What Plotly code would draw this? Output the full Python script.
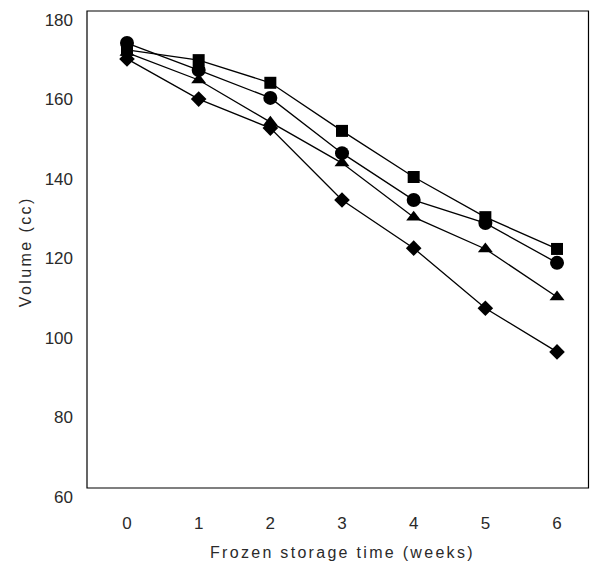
import plotly.graph_objects as go

weeks = [0, 1, 2, 3, 4, 5, 6]
square_vals = [172.5, 169.9, 164.2, 152.1, 140.5, 130.4, 122.4]
circle_vals = [174.2, 167.4, 160.4, 146.5, 134.7, 128.9, 118.9]
triangle_vals = [171.8, 164.9, 154.3, 144.0, 130.4, 122.4, 110.3]
diamond_vals = [170.2, 160.1, 152.8, 134.7, 122.6, 107.5, 96.5]

y_ticks = [60, 80, 100, 120, 140, 160, 180]
x_ticks = [0, 1, 2, 3, 4, 5, 6]

x_title = "Frozen storage time (weeks)"
y_title = "Volume (cc)"

series = [
    (diamond_vals, "diamond", 12),
    (triangle_vals, "triangle-up", 13),
    (circle_vals, "circle", 14),
    (square_vals, "square", 12),
]

fig = go.Figure()
for vals, sym, sz in series:
    fig.add_trace(go.Scatter(
        x=weeks, y=vals, mode="lines+markers",
        line=dict(color="black", width=1.3),
        marker=dict(symbol=sym, size=sz, color="black"),
        showlegend=False,
    ))

tick_font = dict(family="Liberation Sans, Arial, sans-serif", size=17, color="#2a2a2a")
title_font = dict(family="Liberation Sans, Arial, sans-serif", size=16, color="#2a2a2a")

fig.update_layout(
    width=593, height=562,
    margin=dict(l=87, r=3, t=11, b=65),
    paper_bgcolor="white", plot_bgcolor="white",
    xaxis=dict(range=[-0.558, 6.46], tickvals=x_ticks, showgrid=False, zeroline=False,
               showline=False, ticks="", tickfont=tick_font, ticklabelstandoff=14),
    yaxis=dict(range=[60, 182.26], tickvals=y_ticks, showgrid=False, zeroline=False,
               showline=False, ticks="", tickfont=tick_font, ticklabelstandoff=13),
    shapes=[dict(type="rect", xref="paper", yref="paper", x0=0, x1=0.997, y0=0.0185, y1=1,
                 line=dict(color="black", width=1.2), fillcolor="rgba(0,0,0,0)", layer="below")],
    annotations=[
        dict(text='<span style="letter-spacing:2.3px">%s</span>' % x_title,
             xref="paper", yref="paper", x=0.508, y=-0.115, xanchor="center", yanchor="middle",
             showarrow=False, font=title_font),
        dict(text='<span style="letter-spacing:2.4px">%s</span>' % y_title,
             xref="paper", yref="paper", x=-0.123, y=0.504, xanchor="center", yanchor="middle",
             textangle=-90, showarrow=False, font=title_font),
    ],
)

fig.write_html("out.html", config={"displayModeBar": False},
               post_script="document.body.style.margin='0';document.body.style.overflow='hidden';")
